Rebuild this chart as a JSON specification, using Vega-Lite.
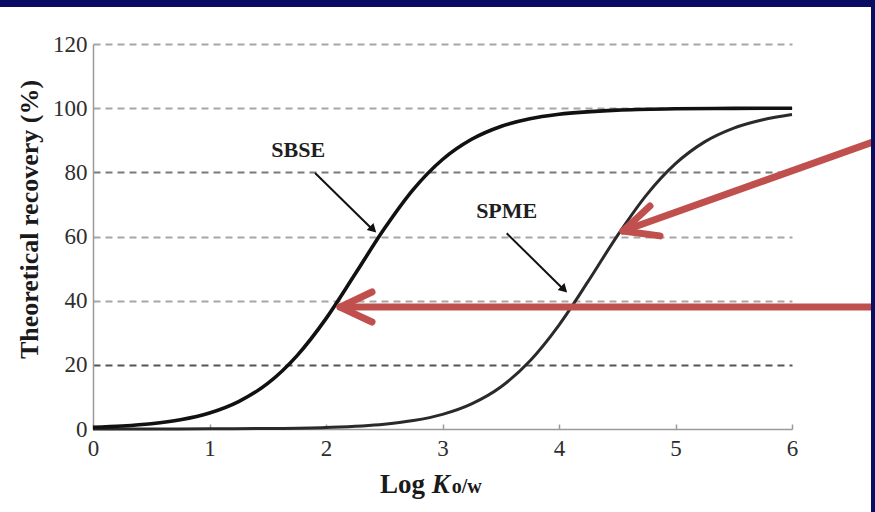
{
  "$schema": "https://vega.github.io/schema/vega-lite/v6.json",
  "autosize": "none",
  "width": 699,
  "height": 385,
  "padding": {"left": 93, "top": 44, "right": 83, "bottom": 83},
  "background": "#ffffff",
  "config": {
    "view": {"stroke": null},
    "font": "Liberation Serif"
  },
  "datasets": {
    "curves": [
      {"method": "SBSE", "x": 0, "y": 0.52}, {"method": "SBSE", "x": 0.25, "y": 0.93}, {"method": "SBSE", "x": 0.5, "y": 1.63},
      {"method": "SBSE", "x": 0.75, "y": 2.87}, {"method": "SBSE", "x": 1, "y": 4.99}, {"method": "SBSE", "x": 1.25, "y": 8.54},
      {"method": "SBSE", "x": 1.5, "y": 14.2}, {"method": "SBSE", "x": 1.75, "y": 22.8}, {"method": "SBSE", "x": 2, "y": 34.4},
      {"method": "SBSE", "x": 2.25, "y": 48.3}, {"method": "SBSE", "x": 2.5, "y": 62.4}, {"method": "SBSE", "x": 2.75, "y": 74.7},
      {"method": "SBSE", "x": 3, "y": 84.0}, {"method": "SBSE", "x": 3.25, "y": 90.3}, {"method": "SBSE", "x": 3.5, "y": 94.3},
      {"method": "SBSE", "x": 3.75, "y": 96.7}, {"method": "SBSE", "x": 4, "y": 98.1}, {"method": "SBSE", "x": 4.5, "y": 99.4},
      {"method": "SBSE", "x": 5, "y": 99.8}, {"method": "SBSE", "x": 5.5, "y": 99.94}, {"method": "SBSE", "x": 6, "y": 99.98},
      {"method": "SPME", "x": 0, "y": 0.005}, {"method": "SPME", "x": 0.5, "y": 0.015}, {"method": "SPME", "x": 1, "y": 0.05},
      {"method": "SPME", "x": 1.5, "y": 0.15}, {"method": "SPME", "x": 2, "y": 0.48}, {"method": "SPME", "x": 2.5, "y": 1.49},
      {"method": "SPME", "x": 2.75, "y": 2.62}, {"method": "SPME", "x": 3, "y": 4.57}, {"method": "SPME", "x": 3.25, "y": 7.84},
      {"method": "SPME", "x": 3.5, "y": 13.1}, {"method": "SPME", "x": 3.75, "y": 21.2}, {"method": "SPME", "x": 4, "y": 32.4},
      {"method": "SPME", "x": 4.25, "y": 46.0}, {"method": "SPME", "x": 4.5, "y": 60.2}, {"method": "SPME", "x": 4.75, "y": 72.9},
      {"method": "SPME", "x": 5, "y": 82.7}, {"method": "SPME", "x": 5.25, "y": 89.5}, {"method": "SPME", "x": 5.5, "y": 93.8},
      {"method": "SPME", "x": 5.75, "y": 96.4}, {"method": "SPME", "x": 6, "y": 98.0}
    ],
    "blackArrows": [
      {"seg": "SBSE", "o": 0, "x": 1.906, "y": 79.8}, {"seg": "SBSE", "o": 1, "x": 2.40, "y": 62.2},
      {"seg": "SPME", "o": 0, "x": 3.551, "y": 61.0}, {"seg": "SPME", "o": 1, "x": 4.04, "y": 43.5}
    ],
    "heads": [
      {"seg": "SBSE", "x": 2.396, "y": 62.5},
      {"seg": "SPME", "x": 4.035, "y": 43.8}
    ],
    "labels": [
      {"label": "SBSE", "x": 1.762, "y": 84.9},
      {"label": "SPME", "x": 3.551, "y": 65.7}
    ],
    "redArrows": [
      {"seg": "a1", "o": 0, "x": 6.75, "y": 90.2}, {"seg": "a1", "o": 1, "x": 4.549, "y": 61.7},
      {"seg": "h1", "o": 0, "x": 4.781, "y": 69.5}, {"seg": "h1", "o": 1, "x": 4.549, "y": 61.7}, {"seg": "h1", "o": 2, "x": 4.867, "y": 60.2},
      {"seg": "a2", "o": 0, "x": 6.75, "y": 38.0}, {"seg": "a2", "o": 1, "x": 2.12, "y": 38.0},
      {"seg": "h2", "o": 0, "x": 2.395, "y": 42.7}, {"seg": "h2", "o": 1, "x": 2.12, "y": 38.0}, {"seg": "h2", "o": 2, "x": 2.395, "y": 33.35}
    ],
    "frame": [
      {"x": -0.9, "x2": 6.8, "y": 131.5, "y2": 140},
      {"x": 6.678, "x2": 6.8, "y": -30, "y2": 140}
    ]
  },
  "encoding": {
    "x": {
      "field": "x", "type": "quantitative",
      "scale": {"domain": [0, 6], "nice": false, "zero": false},
      "axis": {
        "title": null,
        "values": [0, 1, 2, 3, 4, 5, 6],
        "grid": false, "labelFlush": false,
        "domainColor": "#9a9a9a", "domainWidth": 1.5,
        "tickColor": "#9a9a9a", "tickWidth": 1.5, "tickSize": -5,
        "labelPadding": 13,
        "labelFont": "Liberation Serif", "labelFontSize": 23, "labelColor": "#2e2e2e"
      }
    },
    "y": {
      "field": "y", "type": "quantitative",
      "scale": {"domain": [0, 120], "nice": false, "zero": false},
      "axis": {
        "title": "Theoretical recovery (%)",
        "titleFont": "Liberation Serif", "titleFontSize": 26, "titleFontWeight": "bold", "titleColor": "#1a1a1a",
        "titleAngle": 270, "titleAlign": "center", "titleBaseline": "middle",
        "titleX": -64, "titleY": 175,
        "values": [0, 20, 40, 60, 80, 100, 120],
        "grid": true, "gridDash": [7, 5], "gridWidth": 2, "labelFlush": false,
        "gridColor": {"condition": [
          {"test": "datum.value === 0", "value": "transparent"},
          {"test": "datum.value === 20", "value": "#555555"},
          {"test": "datum.value === 80", "value": "#7a7a7a"}
        ], "value": "#a6a6a6"},
        "domainColor": "#9a9a9a", "domainWidth": 1.5,
        "ticks": false, "labelPadding": 6,
        "labelFont": "Liberation Serif", "labelFontSize": 23, "labelColor": "#2e2e2e"
      }
    }
  },
  "layer": [
    {
      "data": {"name": "curves"},
      "transform": [{"filter": "datum.method === 'SPME'"}],
      "mark": {"type": "line", "interpolate": "monotone", "color": "#2a2a2a", "strokeWidth": 3, "clip": false}
    },
    {
      "data": {"name": "curves"},
      "transform": [{"filter": "datum.method === 'SBSE'"}],
      "mark": {"type": "line", "interpolate": "monotone", "color": "#111111", "strokeWidth": 3.6, "clip": false}
    },
    {
      "data": {"name": "blackArrows"},
      "mark": {"type": "line", "color": "#111111", "strokeWidth": 2, "clip": false},
      "encoding": {"detail": {"field": "seg"}, "order": {"field": "o"}}
    },
    {
      "data": {"name": "heads"},
      "mark": {"type": "point", "shape": "triangle", "filled": true, "color": "#111111", "opacity": 1, "size": 95, "angle": 134, "clip": false}
    },
    {
      "data": {"name": "labels"},
      "mark": {"type": "text", "font": "Liberation Serif", "fontWeight": "bold", "fontSize": 22, "color": "#1e1e1e", "align": "center", "baseline": "alphabetic", "clip": false},
      "encoding": {"text": {"field": "label"}}
    },
    {
      "data": {"values": [{"t": "Log", "x": 2.464, "y": -20.0}]},
      "mark": {"type": "text", "font": "Liberation Serif", "fontWeight": "bold", "fontSize": 27, "color": "#1a1a1a", "align": "left", "baseline": "alphabetic", "clip": false},
      "encoding": {"text": {"field": "t"}}
    },
    {
      "data": {"values": [{"t": "K", "x": 2.907, "y": -20.0}]},
      "mark": {"type": "text", "font": "Liberation Serif", "fontWeight": "bold", "fontStyle": "italic", "fontSize": 27, "color": "#1a1a1a", "align": "left", "baseline": "alphabetic", "clip": false},
      "encoding": {"text": {"field": "t"}}
    },
    {
      "data": {"values": [{"t": "o/w", "x": 3.079, "y": -20.0}]},
      "mark": {"type": "text", "font": "Liberation Serif", "fontWeight": "bold", "fontSize": 20, "color": "#1a1a1a", "align": "left", "baseline": "alphabetic", "clip": false},
      "encoding": {"text": {"field": "t"}}
    },
    {
      "data": {"name": "redArrows"},
      "mark": {"type": "line", "color": "#c0504d", "strokeWidth": 7, "strokeCap": "round", "strokeJoin": "round", "clip": false},
      "encoding": {"detail": {"field": "seg"}, "order": {"field": "o"}}
    },
    {
      "data": {"name": "frame"},
      "mark": {"type": "rect", "color": "#080c63", "clip": false},
      "encoding": {"x2": {"field": "x2"}, "y2": {"field": "y2"}}
    }
  ]
}
